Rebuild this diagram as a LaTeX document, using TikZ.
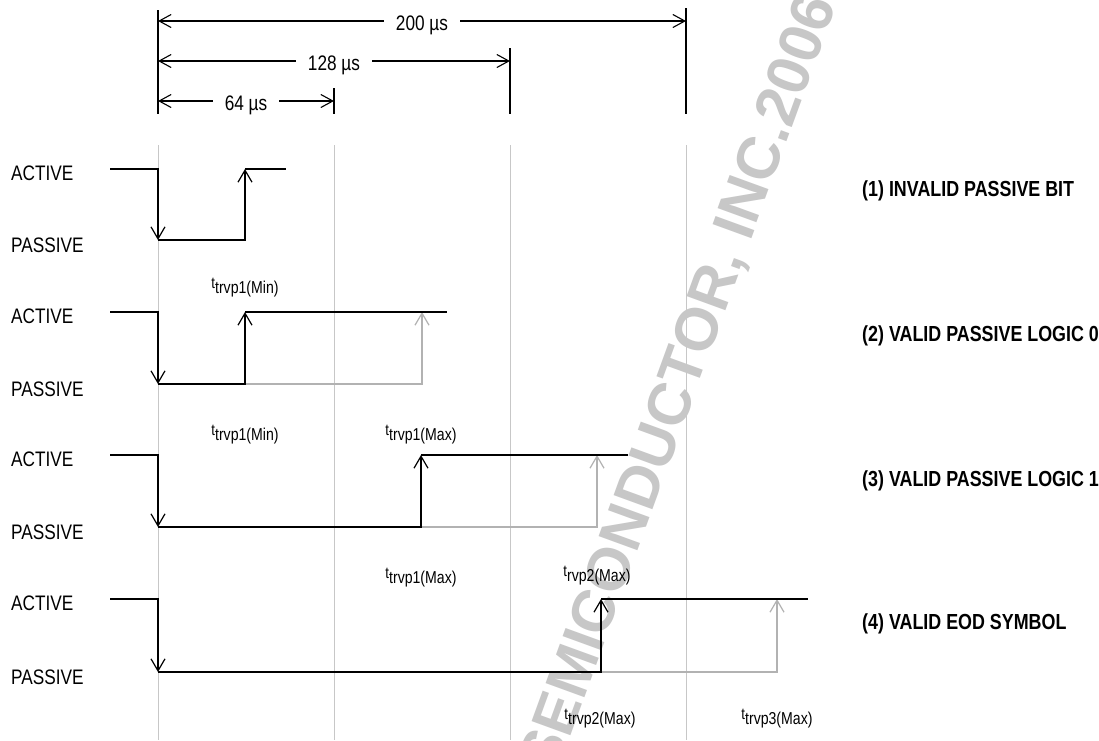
\documentclass[tikz,border=0pt]{standalone}
\usepackage{fontspec}
\setmainfont{Liberation Sans}[FakeStretch=0.82]
\newfontfamily\markfont{Liberation Sans}
\usetikzlibrary{arrows.meta}
\newcommand{\tlab}[1]{{\fontsize{16}{16}\selectfont t}\raisebox{-5pt}{\fontsize{17.2}{17.2}\selectfont #1}}

\begin{document}
\begin{tikzpicture}[x=1pt,y=-1pt,
 sig/.style={line width=1.3pt,black},
 ghost/.style={line width=1.1pt,black!30},
 guide/.style={line width=1pt,black!22},
 tickline/.style={line width=1.2pt,black},
 arr/.style={-{Straight Barb[length=12pt,width=14pt,line width=1.2pt]}},
 dimline/.style={{Straight Barb[length=12pt,width=13pt,line width=1.1pt]}-{Straight Barb[length=12pt,width=13pt,line width=1.1pt]},line width=1.1pt},
 dimtxt/.style={fill=white,inner xsep=12pt,inner ysep=1pt,anchor=base,font=\fontsize{21}{24}\selectfont},
 lvl/.style={anchor=base west,inner sep=0pt,font=\fontsize{21}{24}\selectfont},
 mode/.style={anchor=base west,inner sep=0pt,font=\bfseries\fontsize{21.8}{24}\selectfont},
 tl/.style={inner sep=0pt}]
\useasboundingbox[fill=white] (0,0) rectangle (1099,740);
% watermark
\begin{scope}
\clip (0,0) rectangle (1099,740);
\node[rotate=70,text=black!22,font=\markfont\bfseries\fontsize{60}{60}\selectfont,inner sep=0pt] (wm) at (681,385) {SEMICONDUCTOR, INC.2006};
\end{scope}
% time marks
\draw[guide] (158,145) -- (158,740);
\draw[guide] (334,145) -- (334,740);
\draw[guide] (510,145) -- (510,740);
\draw[guide] (686,145) -- (686,740);
\draw[tickline] (158,10) -- (158,114);
\draw[tickline] (334,88) -- (334,114);
\draw[tickline] (510,48) -- (510,114);
\draw[tickline] (686,8) -- (686,114);
% dimensions
\draw[dimline] (158,21) -- (686,21);
\node[dimtxt] (d200) at (422,30) {200 µs};
\draw[dimline] (158,61) -- (510,61);
\node[dimtxt] (d128) at (334,70) {128 µs};
\draw[dimline] (158,101) -- (334,101);
\node[dimtxt] (d64) at (246,110) {64 µs};
% (1)
\node[lvl] (a1) at (11,180) {ACTIVE};
\node[lvl] (p1) at (11,252) {PASSIVE};
\draw[sig,arr] (110,169) -- (158,169) -- (158,240);
\draw[sig,arr] (158,240) -- (245,240) -- (245,169);
\draw[sig] (245,169) -- (286,169);
\node[mode] (m1) at (862,196) {(1) INVALID PASSIVE BIT};
% (2)
\node[lvl] (a2) at (11,323) {ACTIVE};
\node[lvl] (p2) at (11,396) {PASSIVE};
\node[tl] (l2a) at (245,288) {\tlab{trvp1(Min)}};
\draw[ghost,arr] (245,384) -- (422,384) -- (422,312);
\draw[sig,arr] (110,312) -- (158,312) -- (158,384);
\draw[sig,arr] (158,384) -- (245,384) -- (245,312);
\draw[sig] (245,312) -- (447,312);
\node[mode] (m2) at (862,341) {(2) VALID PASSIVE LOGIC 0};
% (3)
\node[lvl] (a3) at (11,466) {ACTIVE};
\node[lvl] (p3) at (11,539) {PASSIVE};
\node[tl] (l3a) at (245,435) {\tlab{trvp1(Min)}};
\node[tl] (l3b) at (421,435) {\tlab{trvp1(Max)}};
\draw[ghost,arr] (421,527) -- (597,527) -- (597,455);
\draw[sig,arr] (110,455) -- (158,455) -- (158,527);
\draw[sig,arr] (158,527) -- (421,527) -- (421,455);
\draw[sig] (421,455) -- (628,455);
\node[mode] (m3) at (862,486) {(3) VALID PASSIVE LOGIC 1};
% (4)
\node[lvl] (a4) at (11,610) {ACTIVE};
\node[lvl] (p4) at (11,684) {PASSIVE};
\node[tl] (l4a) at (421,578) {\tlab{trvp1(Max)}};
\node[tl] (l4b) at (597,576) {\tlab{rvp2(Max)}};
\draw[ghost,arr] (601,672) -- (777,672) -- (777,599);
\draw[sig,arr] (110,599) -- (158,599) -- (158,672);
\draw[sig,arr] (158,672) -- (601,672) -- (601,599);
\draw[sig] (601,599) -- (808,599);
\node[mode] (m4) at (862,629) {(4) VALID EOD SYMBOL};
\node[tl] (l4c) at (600,719) {\tlab{trvp2(Max)}};
\node[tl] (l4d) at (777,719) {\tlab{trvp3(Max)}};
\end{tikzpicture}
\end{document}
